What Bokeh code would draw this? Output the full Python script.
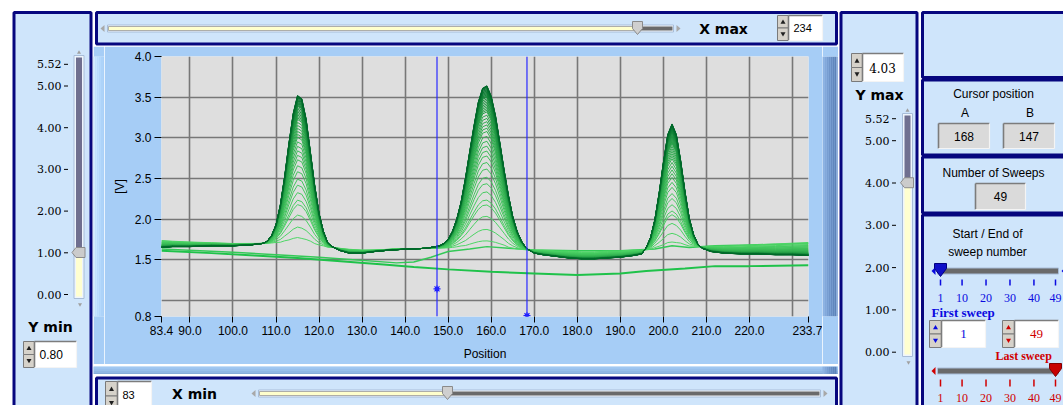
import numpy as np
from bokeh.plotting import figure
from bokeh.models import Range1d, FixedTicker, Span, PrintfTickFormatter
from bokeh.layouts import row, column
from bokeh.core.properties import value
from bokeh.embed import file_html
from bokeh.resources import INLINE

# ------------------------------------------------------------------ data
positions = [83.4, 86, 90, 95, 100, 104, 107,
             108, 109, 110, 111, 112, 113, 114, 115, 116, 117, 118, 119, 120, 121, 122, 123,
             125, 127, 130, 133, 137, 141, 145, 147,
             148, 149, 150, 151, 152, 153, 154, 155, 156, 157, 158, 159, 160, 161, 162, 163,
             164, 165, 166, 167, 168, 169, 170,
             172, 175, 178, 181, 184, 187, 190, 193, 195,
             196, 197, 198, 199, 200, 201, 202, 203, 204, 205, 206, 207, 208, 209,
             211, 214, 218, 222, 226, 230, 233.7]
# baseline of the last (darkest) sweeps
base_late = [1.65, 1.66, 1.66, 1.67, 1.67, 1.68, 1.69,
             1.69, 1.69, 1.68, 1.68, 1.67, 1.67, 1.66, 1.66, 1.65, 1.65, 1.64, 1.64, 1.63, 1.63, 1.62, 1.62,
             1.60, 1.58, 1.58, 1.60, 1.62, 1.63, 1.64, 1.65,
             1.65, 1.65, 1.64, 1.64, 1.64, 1.63, 1.63, 1.63, 1.62, 1.62, 1.62, 1.61, 1.61, 1.61, 1.60, 1.60,
             1.60, 1.59, 1.59, 1.59, 1.58, 1.58, 1.57,
             1.56, 1.54, 1.52, 1.51, 1.51, 1.52, 1.53, 1.55, 1.57,
             1.58, 1.58, 1.59, 1.59, 1.59, 1.60, 1.60, 1.60, 1.61, 1.61, 1.61, 1.62, 1.62, 1.62,
             1.60, 1.58, 1.57, 1.57, 1.56, 1.56, 1.55]
# baseline of the first (lightest) sweeps
base_early = [1.74, 1.73, 1.72, 1.71, 1.70, 1.70, 1.70,
              1.70, 1.70, 1.70, 1.69, 1.69, 1.68, 1.68, 1.68, 1.67, 1.67, 1.67, 1.66, 1.66, 1.66, 1.65, 1.65,
              1.64, 1.63, 1.62, 1.62, 1.63, 1.63, 1.64, 1.64,
              1.64, 1.64, 1.64, 1.64, 1.64, 1.64, 1.63, 1.63, 1.63, 1.63, 1.63, 1.63, 1.63, 1.63, 1.63, 1.63,
              1.62, 1.62, 1.62, 1.62, 1.62, 1.62, 1.62,
              1.62, 1.61, 1.61, 1.60, 1.60, 1.61, 1.61, 1.62, 1.62,
              1.62, 1.62, 1.63, 1.63, 1.63, 1.64, 1.64, 1.64, 1.65, 1.65, 1.65, 1.66, 1.66, 1.66,
              1.67, 1.67, 1.68, 1.69, 1.70, 1.71, 1.72]
# peak height above baseline of the tallest sweep [V]
peak_tallest = [0, 0, 0, 0, 0, 0, 0.01,
                0.04, 0.11, 0.25, 0.49, 0.85, 1.26, 1.64, 1.86, 1.83, 1.58, 1.18, 0.77, 0.44, 0.22, 0.09, 0.04,
                0.01, 0, 0, 0, 0, 0, 0, 0.01,
                0.02, 0.05, 0.11, 0.21, 0.36, 0.58, 0.87, 1.20, 1.53, 1.82, 1.99, 2.03, 1.90, 1.66, 1.34, 1.00,
                0.69, 0.44, 0.26, 0.14, 0.07, 0.03, 0.01,
                0, 0, 0, 0, 0, 0, 0, 0, 0,
                0.07, 0.19, 0.40, 0.73, 1.11, 1.44, 1.57, 1.44, 1.11, 0.73, 0.40, 0.19, 0.07, 0.02,
                0, 0, 0, 0, 0, 0, 0]
# relative peak size of sweeps 3..49
sweep_scale = [0.05, 0.12, 0.20, 0.27, 0.30, 0.35, 0.40, 0.44, 0.49, 0.53,
               0.57, 0.60, 0.63, 0.66, 0.69, 0.72, 0.74, 0.76, 0.78, 0.80,
               0.82, 0.84, 0.85, 0.86, 0.87, 0.88, 0.89, 0.90, 0.91, 0.92,
               0.93, 0.935, 0.94, 0.945, 0.95, 0.955, 0.96, 0.965, 0.97, 0.975,
               0.98, 0.985, 0.99, 0.993, 0.996, 0.998, 1.0]
# sweep 1 (no peaks)
flat_positions = [83.4, 95, 105, 115, 125, 135, 142, 150, 160, 170, 180, 190, 196, 205, 212, 220, 233.7]
flat_sweep = [1.61, 1.58, 1.55, 1.52, 1.48, 1.44, 1.41, 1.38, 1.35, 1.33, 1.31, 1.33, 1.36, 1.39, 1.42, 1.42, 1.43]
# sweep 2
sweep2_positions = [83.4, 100, 120, 138, 142, 146, 150, 155, 159, 164, 170, 180, 190, 198, 202, 206, 212, 220, 233.7]
sweep2_values = [1.63, 1.59, 1.53, 1.46, 1.47, 1.53, 1.60, 1.63, 1.66, 1.64, 1.62, 1.61, 1.61, 1.63, 1.67, 1.65, 1.67, 1.68, 1.70]

cursor_names = ["A", "B"]
cursor_pos = [168.3, 147.4]
cursor_marker_v = [0.81, 1.14]

x_ticks = [83.4, 90, 100, 110, 120, 130, 140, 150, 160, 170, 180, 190, 200, 210, 220, 233.7]
x_grid = [83.4, 90, 100, 110, 120, 130, 140, 150, 160, 170, 180, 190, 200, 210, 220, 230]
y_ticks = [0.8, 1.5, 2.0, 2.5, 3.0, 3.5, 4.0]
y_grid = [1.0, 1.5, 2.0, 2.5, 3.0, 3.5, 4.0]

x_min_ctrl, x_max_ctrl = 83, 234
y_min_ctrl, y_max_ctrl = 0.80, 4.03
slider_ticks = [0.0, 1.0, 2.0, 3.0, 4.0, 5.0, 5.52]
sweep_ticks = [1, 10, 20, 30, 40, 49]
first_sweep, last_sweep = 1, 49
n_sweeps = 2 + len(sweep_scale)

# ------------------------------------------------------------------ styles
PANEL = "#cfe5fb"
CHART_BG = "#a6cdf6"
NAVY = "#06067e"
FRAME = "#dedede"
GRIDC = "#777777"
BLUE = "#0a0ae0"
RED = "#d00000"
SANS = "Liberation Sans"
SERIF = "DejaVu Serif"
LSERIF = "Liberation Serif"
BOLD = "DejaVu Sans"


def deco(x0, x1, y0, y1, bg="white"):
    f = figure(width=x1 - x0, height=y1 - y0, x_range=Range1d(x0, x1), y_range=Range1d(y1, y0),
               x_axis_location=None, y_axis_location=None, min_border=0,
               output_backend="svg", toolbar_location=None,
               background_fill_color=bg, border_fill_color=bg)
    f.grid.visible = False
    f.outline_line_color = None
    return f


def txt(f, x, y, s, size=12, font=SANS, color="black", align="center", style="normal"):
    f.text(x=[x], y=[y], text=[s], text_font=value(font), text_font_size=value(f"{size}px"),
           text_color=color, text_align=align, text_baseline="middle", text_font_style=style)


def panel(f, l, r, t, b, fill=PANEL):
    f.quad(left=l, right=r, top=t, bottom=b, fill_color=fill, line_color=NAVY, line_width=3)


def sunken(f, l, r, t, b, fill):
    f.quad(left=l, right=r, top=t, bottom=b, fill_color=fill, line_color=None)
    f.segment(x0=[l, l], y0=[t, t], x1=[r, l], y1=[t, b], line_color="#7c7c7c", line_width=1.6)
    f.segment(x0=[l, r], y0=[b, t], x1=[r, r], y1=[b, b], line_color="#f4f4f4", line_width=1.2)


def spinner(f, bl, br, boxr, t, b, s, tcolor="black", font=SANS, size=12, tx=None,
            align="left", acolor="#202020", ty=None):
    m = (t + b) / 2
    f.quad(left=bl, right=br, top=t, bottom=m, fill_color="#d6d2ca", line_color="#7a7a7a", line_width=1)
    f.quad(left=bl, right=br, top=m, bottom=b, fill_color="#d6d2ca", line_color="#7a7a7a", line_width=1)
    f.scatter(x=[(bl + br) / 2], y=[t + (m - t) * 0.55], marker="triangle", size=5,
              fill_color=acolor, line_color=None)
    f.scatter(x=[(bl + br) / 2], y=[m + (b - m) * 0.45], marker="inverted_triangle", size=5,
              fill_color=acolor, line_color=None)
    sunken(f, br, boxr, t, b, "white")
    if tx is None:
        tx = br + 5
    txt(f, tx, m if ty is None else ty, s, size=size, font=font, color=tcolor, align=align)


def vslider(f, xc, top, bottom, thumb_y, label_right, y_of):
    f.quad(left=xc - 5, right=xc + 5, top=top, bottom=bottom, fill_color="#eef5fc",
           line_color="#a8bdd8", line_width=1)
    f.quad(left=xc - 3, right=xc + 3, top=top + 2, bottom=thumb_y, fill_color="#6f6f8f", line_color=None)
    f.quad(left=xc - 3, right=xc + 3, top=thumb_y, bottom=bottom - 2, fill_color="#ffffd0", line_color=None)
    f.patch(x=[xc - 7, xc - 3, xc + 6, xc + 6, xc - 3],
            y=[thumb_y, thumb_y - 5, thumb_y - 5, thumb_y + 5, thumb_y + 5],
            fill_color="#cbcbcb", line_color="#8c8c8c", line_width=1)
    f.scatter(x=[xc], y=[top - 3], marker="triangle", size=4, fill_color="#a0a0a0", line_color=None)
    f.scatter(x=[xc + 1], y=[bottom + 6], marker="inverted_triangle", size=4, fill_color="#a0a0a0",
              line_color=None)
    for v in slider_ticks:
        yy = y_of(v)
        txt(f, label_right, yy, f"{v:.2f}", size=11, font=SERIF, align="right")
        f.segment(x0=[label_right + 2.5], y0=[yy], x1=[label_right + 6.5], y1=[yy],
                  line_color="black", line_width=1)


def hslider(f, l, r, yc, thumb_x, arrow="#a8a8a8"):
    f.patch(x=[l - 7, l - 3, l - 3], y=[yc, yc - 3.5, yc + 3.5], fill_color=arrow, line_color=None)
    f.patch(x=[r + 7, r + 3, r + 3], y=[yc, yc - 3.5, yc + 3.5], fill_color=arrow, line_color=None)
    f.quad(left=l, right=r, top=yc - 3.5, bottom=yc + 3.5, fill_color="#f2f6fa", line_color="#a8bdd8",
           line_width=1)
    f.quad(left=l + 1, right=thumb_x, top=yc - 2, bottom=yc + 2, fill_color="#ffffcc",
           line_color="#9a9a9a", line_width=0.8)
    f.quad(left=thumb_x, right=r - 1, top=yc - 2, bottom=yc + 2, fill_color="#6a6a6a", line_color=None)
    f.patch(x=[thumb_x - 5, thumb_x + 5, thumb_x + 5, thumb_x, thumb_x - 5],
            y=[yc - 7, yc - 7, yc, yc + 6, yc],
            fill_color="#cfcfcf", line_color="#8a8a8a", line_width=1)


# ------------------------------------------------------------------ chart (ref x 104..822, y 46..364)
ch = figure(width=718, height=318, x_range=Range1d(83.4, 233.7), y_range=Range1d(0.8, 4.0),
            min_border_left=57, min_border_right=14, min_border_top=10, min_border_bottom=48,
            output_backend="svg", toolbar_location=None,
            background_fill_color=FRAME, border_fill_color=CHART_BG)
ch.outline_line_color = None

ch.xaxis.ticker = FixedTicker(ticks=x_ticks)
ch.yaxis.ticker = FixedTicker(ticks=y_ticks)
ch.xgrid.ticker = FixedTicker(ticks=x_grid)
ch.ygrid.ticker = FixedTicker(ticks=y_grid)
ch.grid.grid_line_color = GRIDC
ch.grid.grid_line_width = 1.6
ch.xaxis.formatter = PrintfTickFormatter(format="%.1f")
ch.yaxis.formatter = PrintfTickFormatter(format="%.1f")
for ax in (ch.xaxis[0], ch.yaxis[0]):
    ax.axis_line_color = None
    ax.major_tick_line_color = "black"
    ax.major_tick_in = 0
    ax.minor_tick_line_color = None
    ax.major_label_text_font = SANS
    ax.major_label_text_font_size = "12px"
    ax.major_label_text_color = "black"
    ax.axis_label_text_font = SANS
    ax.axis_label_text_font_size = "12px"
    ax.axis_label_text_font_style = "normal"
    ax.axis_label_text_color = "black"
ch.xaxis.major_tick_out = 6
ch.yaxis.major_tick_out = 7
ch.xaxis.major_label_standoff = 3
ch.yaxis.major_label_standoff = 3
ch.xaxis.axis_label = "Position"
ch.yaxis.axis_label = "[V]"
ch.xaxis.axis_label_standoff = 9
ch.yaxis.axis_label_standoff = 5

P = np.array(positions)
be = np.array(base_early)
bl = np.array(base_late)
pk = np.array(peak_tallest)
c0 = np.array([78, 214, 102])
c1 = np.array([0, 104, 42])
n = len(sweep_scale)
xs, ys, cols = [], [], []
for i, s in enumerate(sweep_scale):
    xs.append(list(P))
    ys.append(list(be + (bl - be) * s + pk * s))
    t = i / (n - 1)
    c = (c0 + (c1 - c0) * t).astype(int)
    cols.append("#%02x%02x%02x" % tuple(c))
ch.line(flat_positions, flat_sweep, line_color="#1fc24a", line_width=2)
ch.line(sweep2_positions, sweep2_values, line_color="#34c957", line_width=1.5)
ch.multi_line(xs, ys, line_color=cols, line_width=1)

for cx in cursor_pos:
    ch.add_layout(Span(location=cx, dimension="height", line_color="#2a2aff", line_width=1.2))
ch.scatter(cursor_pos, cursor_marker_v, marker="asterisk", size=7, line_color="#1a1aff", line_width=1.2)
ch.scatter(cursor_pos, cursor_marker_v, marker="square", size=3, fill_color="#1a1aff", line_color=None)

# chart panel edges (bevel)
lsf = deco(93, 104, 46, 364, bg=CHART_BG)
for i, c in enumerate(["#d2ebff", "#c6e4ff", "#bcdeff", "#b4d8fc", "#add3f9"]):
    lsf.quad(left=93 + i * 2, right=95 + i * 2, top=46, bottom=364, fill_color=c, line_color=None)
rsf = deco(822, 838, 46, 364, bg=CHART_BG)
rgrad = ["#8cb2e2", "#82a8da", "#789ed2", "#6f95ca", "#678dc3", "#6187bd", "#5c82b8"]
for i, c in enumerate(rgrad):
    rsf.quad(left=822 + i * 2, right=824 + i * 2, top=46, bottom=364, fill_color=c, line_color=None)
rsf.quad(left=836, right=838, top=46, bottom=364, fill_color="#93b2dc", line_color=None)
band = deco(93, 838, 364, 374, bg=CHART_BG)
for i, c in enumerate(["#a0c7f1", "#98bfeb", "#8fb6e3", "#85acda"]):
    band.quad(left=93, right=838, top=364 + i * 2, bottom=366 + i * 2, fill_color=c, line_color=None)
band.quad(left=93, right=838, top=372, bottom=374, fill_color="#dbebfb", line_color=None)
for i, c in enumerate(rgrad):
    band.quad(left=822 + i * 2, right=824 + i * 2, top=364, bottom=372, fill_color=c, line_color=None)

# ------------------------------------------------------------------ left panel (Y min)
lf = deco(0, 93, 0, 405)
panel(lf, 13.5, 90.5, 12, 430)
ly = lambda v: 294 - 41.7 * v
vslider(lf, 78.5, 55, 298, 252, 61, ly)
txt(lf, 50, 326, "Y min", size=14, font=BOLD, style="bold")
spinner(lf, 23, 34, 76, 341, 367, f"{y_min_ctrl:.2f}", font=SANS, size=12)

# ------------------------------------------------------------------ top panel (X max)
tf = deco(93, 838, 0, 46)
panel(tf, 96, 836, 12, 43.5)
hslider(tf, 107, 673, 28, 637)
txt(tf, 723, 28, "X max", size=14, font=BOLD, style="bold")
spinner(tf, 777, 788, 822, 15, 40, f"{x_max_ctrl}", font=SANS, size=11)

# ------------------------------------------------------------------ bottom panel (X min)
bf = deco(93, 838, 374, 405)
panel(bf, 96, 836, 377.5, 430)
spinner(bf, 105, 117, 151, 381, 410, f"{x_min_ctrl}", font=SANS, size=11, ty=394)
txt(bf, 194, 393, "X min", size=14, font=BOLD, style="bold")
hslider(bf, 258, 820, 393, 447)

# ------------------------------------------------------------------ right side
rf = deco(838, 1063, 0, 405)
panel(rf, 840.5, 916.5, 12, 430)
panel(rf, 922, 1080, 12, 77)
panel(rf, 922, 1080, 79.5, 154.5)
panel(rf, 922, 1080, 156.5, 212.5)
panel(rf, 922, 1080, 214.5, 430)

spinner(rf, 851, 862, 903, 53, 81, f"{y_max_ctrl:.2f}", font=SERIF, size=12, tx=882, align="center")
txt(rf, 879, 94, "Y max", size=14, font=BOLD, style="bold")
ry = lambda v: 351.7 - 42.3 * v
vslider(rf, 907, 113, 356, ry(y_max_ctrl) + 1, 889, ry)

txt(rf, 993, 93, "Cursor position", size=12, font=SANS)
cx_box = [(938, 989), (1003, 1054)]
for name, cp, (l, r) in zip(cursor_names, cursor_pos, cx_box):
    txt(rf, (l + r) / 2 + 1, 112, name, size=12, font=SANS)
    sunken(rf, l, r, 123, 148, "#dadada")
    txt(rf, (l + r) / 2, 136, f"{round(cp)}", size=12, font=SANS)

txt(rf, 993, 172, "Number of Sweeps", size=12, font=SANS)
sunken(rf, 975, 1025, 183, 209, "#dadada")
txt(rf, 1000, 196, f"{n_sweeps}", size=12, font=SANS)

txt(rf, 987, 233, "Start / End of", size=12, font=SANS)
txt(rf, 987, 251, "sweep number", size=12, font=SANS)

sx = lambda v: 940 + (v - 1) * (1055 - 940) / (n_sweeps - 1)
# first sweep slider
rf.patch(x=[931, 935, 935], y=[270.5, 266.5, 274.5], fill_color=BLUE, line_color=None)
rf.quad(left=937, right=1058, top=267.5, bottom=273.5, fill_color="#6a6a6a", line_color="#a8bdd8", line_width=1)
rf.patch(x=[1061, 1065, 1065], y=[270.5, 266.5, 274.5], fill_color=BLUE, line_color=None)
xf = sx(first_sweep)
rf.patch(x=[xf - 6, xf + 6, xf + 6, xf, xf - 6], y=[263, 263, 268, 276, 268], fill_color="#1010c8",
         line_color="#000080", line_width=1)
rf.segment(x0=[sx(v) for v in sweep_ticks], y0=[279] * 6, x1=[sx(v) for v in sweep_ticks], y1=[285] * 6,
           line_color=BLUE, line_width=1.5)
for v in sweep_ticks:
    txt(rf, sx(v), 297, f"{v}", size=12, font=LSERIF, color=BLUE)
txt(rf, 931, 312, "First sweep", size=13, font=LSERIF, color=BLUE, align="left", style="bold")
spinner(rf, 929, 941, 985, 320, 347, f"{first_sweep}", tcolor=BLUE, font=LSERIF, size=13,
        tx=963, align="center", acolor=BLUE)
spinner(rf, 1002, 1014, 1058, 320, 347, f"{last_sweep}", tcolor=RED, font=LSERIF, size=13,
        tx=1036, align="center", acolor=RED)
txt(rf, 995, 355, "Last sweep", size=12, font=LSERIF, color=RED, align="left", style="bold")
# last sweep slider
rf.patch(x=[931, 935, 935], y=[370.5, 366.5, 374.5], fill_color=RED, line_color=None)
rf.quad(left=937, right=1058, top=367.5, bottom=373.5, fill_color="#6a6a6a", line_color="#a8bdd8", line_width=1)
xl = sx(last_sweep)
rf.patch(x=[xl - 6, xl + 6, xl + 6, xl, xl - 6], y=[363, 363, 368, 376, 368], fill_color="#c80000",
         line_color="#800000", line_width=1)
rf.segment(x0=[sx(v) for v in sweep_ticks], y0=[379] * 6, x1=[sx(v) for v in sweep_ticks], y1=[386] * 6,
           line_color=RED, line_width=1.5)
for v in sweep_ticks:
    txt(rf, sx(v), 397, f"{v}", size=12, font=LSERIF, color=RED)

# ------------------------------------------------------------------ layout
middle_row = row(lsf, ch, rsf, spacing=0)
mid = column(tf, middle_row, band, bf, spacing=0)
layout = row(lf, mid, rf, spacing=0)

open("out.html", "w").write(file_html(layout, INLINE))
